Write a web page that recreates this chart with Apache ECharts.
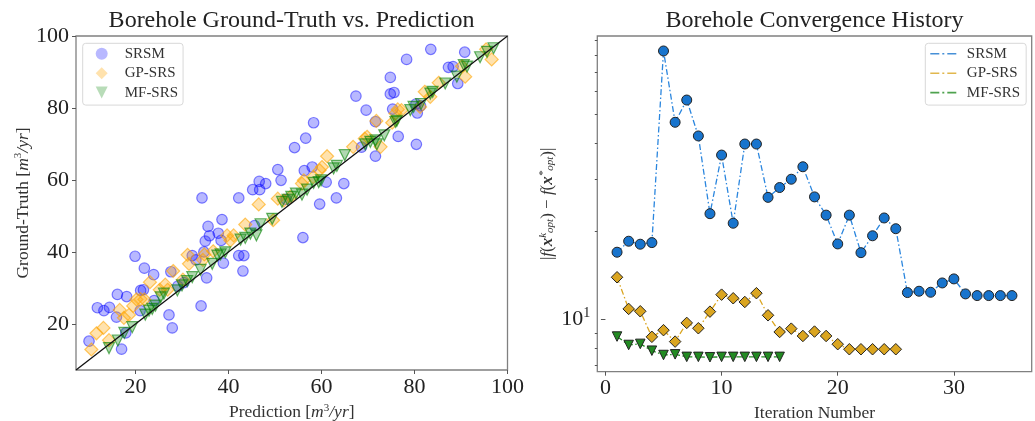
<!DOCTYPE html>
<html>
<head>
<meta charset="utf-8">
<script src="https://cdn.jsdelivr.net/npm/echarts@6/dist/echarts.min.js"></script>
<style>
  html, body { margin: 0; padding: 0; background: #fff; }
  #chart { width: 1035px; height: 421px; }
</style>
</head>
<body>
<div id="chart"></div>
<script>
// ---- Parity plot: [prediction, ground truth] in m^3/yr ----
const srsmPoints = [
  [10.0,15.2],[17.0,13.0],[17.9,17.5],[11.8,24.5],[13.2,23.7],[14.4,24.6],[15.9,21.9],[16.1,28.2],
  [18.1,27.6],[19.9,38.8],[21.0,23.7],[21.1,29.3],[21.7,29.5],[21.9,35.5],[23.9,33.7],[24.0,26.5],
  [27.2,22.5],[27.9,18.9],[27.6,34.5],[29.1,30.5],[30.4,31.5],[32.2,39.0],[33.0,37.8],[34.1,25.0],
  [34.3,55.0],[34.7,40.0],[35.0,43.0],[35.3,32.8],[35.6,47.1],[35.9,44.5],[37.8,45.2],[38.4,43.2],
  [38.6,49.0],[38.9,36.9],[42.2,55.0],[42.2,39.0],[43.3,39.0],[43.1,34.7],[45.2,57.3],[46.6,59.6],
  [46.7,57.3],[48.0,59.0],[45.6,47.3],[50.6,62.9],[51.3,59.9],[52.4,54.6],[54.2,69.0],[56.3,62.6],
  [56.6,71.6],[56.0,44.0],[58.3,75.9],[58.0,63.6],[59.6,53.3],[61.0,59.4],[63.2,55.0],[64.8,59.0],
  [67.4,83.3],[68.6,69.1],[69.6,79.4],[71.6,66.6],[71.6,76.2],[74.8,88.5],[74.8,83.9],[75.6,84.3],
  [75.3,79.7],[76.5,72.1],[78.3,93.5],[80.3,81.1],[80.6,78.6],[80.4,69.9],[81.3,80.6],[83.5,96.3],
  [87.3,91.3],[88.3,91.5],[89.3,86.8],[90.8,95.5]
];
const gpPoints = [
  [10.5,12.9],[11.6,17.4],[13.1,18.9],[14.3,15.5],[16.6,23.9],[17.5,21.7],[18.6,22.5],[19.5,25.0],
  [20.2,26.8],[21.1,26.9],[21.9,26.8],[23.1,31.6],[25.2,29.5],[26.4,30.9],[26.9,29.5],[28.1,34.7],
  [30.2,32.3],[31.2,39.2],[31.5,36.7],[34.5,37.8],[34.8,39.3],[36.7,40.2],[39.7,44.6],[41.1,44.6],
  [40.4,43.2],[43.6,47.6],[46.5,53.2],[49.6,48.8],[50.6,54.8],[51.9,54.3],[53.3,55.3],[55.8,59.0],
  [56.2,59.9],[58.2,60.8],[59.6,62.7],[60.1,63.6],[61.2,66.6],[66.8,69.2],[69.8,72.0],[69.3,71.5],
  [72.7,69.2],[75.2,75.9],[76.4,79.6],[77.2,79.4],[75.9,78.5],[71.8,76.4],[81.2,80.3],[83.4,83.1],
  [82.2,84.5],[85.2,87.0],[90.2,91.6],[90.9,88.7],[95.4,96.3],[96.6,93.5]
];
const mfPoints = [
  [14.3,13.3],[16.2,15.4],[17.6,17.5],[19.3,19.1],[22.1,22.6],[22.9,23.7],[23.6,24.2],[24.3,25.1],
  [25.4,27.4],[26.1,28.4],[29.0,29.3],[30.0,30.7],[31.1,31.9],[32.2,33.0],[34.0,35.0],[36.5,36.7],
  [37.6,39.0],[38.3,39.3],[39.3,39.9],[42.6,43.4],[43.6,43.9],[44.7,45.1],[46.0,44.6],[46.9,47.7],
  [49.4,49.2],[51.5,53.9],[52.7,54.5],[53.5,55.3],[54.5,56.2],[55.8,55.9],[56.9,57.3],[58.3,59.2],
  [59.4,59.4],[59.9,59.9],[62.6,63.2],[63.3,63.9],[65.0,66.9],[69.4,69.9],[70.5,70.6],[71.6,71.0],
  [71.9,69.9],[73.5,72.4],[75.9,76.1],[76.2,76.4],[79.1,79.4],[79.8,80.3],[81.4,81.1],[83.4,84.0],
  [83.9,84.5],[86.6,86.8],[89.1,88.7],[90.6,91.9],[91.3,91.5],[94.1,94.1],[95.6,95.6],[97.0,96.6]
];
const parityRange = [7.2, 100];
const parityTicks = [20, 40, 60, 80, 100];

// ---- Convergence history: |f(x^k_opt) - f(x*_opt)| per iteration ----
const srsmHistory = [16.96,18.49,18.06,18.29,82.5,47.1,56.1,42.3,22.96,36.4,21.3,39.7,39.7,26.1,28.2,
  30.1,33.2,26.2,22.7,18.1,22.7,16.9,19.3,22.2,20.4,12.35,12.48,12.38,13.32,13.75,12.22,12.06,12.06,12.06,12.06];
const gpHistory = [13.93,10.86,10.66,8.72,9.19,8.40,9.73,9.33,10.63,12.15,11.81,11.47,12.29,10.33,9.06,
  9.30,8.78,9.09,8.78,8.23,7.91,7.91,7.91,7.91,7.91];
const mfHistory = [8.74,8.18,8.25,7.82,7.56,7.60,7.45,7.45,7.43,7.45,7.45,7.45,7.45,7.45,7.45];
const iterTicks = [0, 10, 20, 30];
const logMajorTicks = [10];
const logMinorTicks = [7, 8, 9, 20, 30, 40, 50, 60, 70, 80, 90];

const SERIF = '"Liberation Serif", "DejaVu Serif", serif';
const DIAMOND = 'path://M1,0L2,1L1,2L0,1Z';
const TRI_DOWN = 'path://M0,0L2,0L1,2Z';
const DASH_DOT = 'path://M0,0H9V1.6H0Z M12,0H14V1.6H12Z M17,0H26V1.6H17Z';

const withIter = vals => vals.map((v, i) => [i + 1, v]);

const frame = { show: true, borderColor: '#808080', borderWidth: 1.3, backgroundColor: 'transparent',
  outerBoundsMode: 'none', containLabel: false };
const tickStyle = { lineStyle: { color: '#555', width: 1 } };
const nameRich = {
  i: { fontStyle: 'italic', fontSize: 17.5, fontFamily: SERIF },
  s: { fontSize: 11, padding: [0, 0, 9, 0], fontFamily: SERIF }
};

const chart = echarts.init(document.getElementById('chart'), null, { renderer: 'canvas' });
chart.setOption({
  animation: false,
  textStyle: { fontFamily: SERIF },
  title: [
    { text: 'Borehole Ground-Truth vs. Prediction', left: 291.5, top: 9, padding: 0, textAlign: 'center',
      textStyle: { fontFamily: SERIF, fontSize: 24, fontWeight: 'normal', color: '#222' } },
    { text: 'Borehole Convergence History', left: 814.5, top: 9, padding: 0, textAlign: 'center',
      textStyle: { fontFamily: SERIF, fontSize: 24, fontWeight: 'normal', color: '#222' } }
  ],
  legend: [
    {
      left: 82.7, top: 43.3, orient: 'vertical', padding: [3, 5, 5, 13],
      itemWidth: 36, itemHeight: 12, itemGap: 4.4,
      backgroundColor: 'rgba(255,255,255,0.8)', borderColor: '#d8d8d8', borderWidth: 1, borderRadius: 3,
      textStyle: { fontFamily: SERIF, fontSize: 15, color: '#333', lineHeight: 15 },
      data: [
        { name: 'SRSM', icon: 'circle', itemStyle: { color: 'rgba(0,0,255,0.35)', borderWidth: 0 } },
        { name: 'GP-SRS', icon: DIAMOND, itemStyle: { color: 'rgba(255,165,0,0.4)', borderWidth: 0 } },
        { name: 'MF-SRS', icon: TRI_DOWN, itemStyle: { color: 'rgba(0,128,0,0.35)', borderWidth: 0 } }
      ]
    },
    {
      left: 925.3, top: 43.3, orient: 'vertical', padding: [3, 6, 5, 5],
      itemWidth: 37, itemHeight: 1.6, itemGap: 4.4,
      backgroundColor: 'rgba(255,255,255,0.8)', borderColor: '#d8d8d8', borderWidth: 1, borderRadius: 3,
      textStyle: { fontFamily: SERIF, fontSize: 15, color: '#333', lineHeight: 15 },
      data: [
        { name: 'SRSM', icon: DASH_DOT, itemStyle: { color: '#1874CD', borderWidth: 0 } },
        { name: 'GP-SRS', icon: DASH_DOT, itemStyle: { color: '#DAA520', borderWidth: 0 } },
        { name: 'MF-SRS', icon: DASH_DOT, itemStyle: { color: '#228B22', borderWidth: 0 } }
      ]
    }
  ],
  grid: [
    Object.assign({ left: 76, top: 36, width: 431.5, height: 334 }, frame),
    Object.assign({ left: 597.3, top: 36, width: 434.4, height: 335.7 }, frame)
  ],
  xAxis: [
    {
      gridIndex: 0, type: 'value', min: parityRange[0], max: parityRange[1],
      axisLine: { show: false }, splitLine: { show: false },
      axisTick: Object.assign({ show: true, length: 4, customValues: parityTicks }, tickStyle),
      axisLabel: { customValues: parityTicks, fontSize: 22, color: '#222', margin: 6, fontFamily: SERIF },
      name: 'Prediction [{i|m}{s|3}{i|/yr}]', nameLocation: 'middle', nameGap: 30,
      nameTextStyle: { fontSize: 17.5, color: '#333', fontFamily: SERIF, rich: nameRich }
    },
    {
      gridIndex: 1, type: 'value', min: -0.7, max: 36.7,
      axisLine: { show: false }, splitLine: { show: false },
      axisTick: Object.assign({ show: true, length: 4, customValues: iterTicks }, tickStyle),
      axisLabel: { customValues: iterTicks, fontSize: 22, color: '#222', margin: 6, fontFamily: SERIF },
      name: 'Iteration Number', nameLocation: 'middle', nameGap: 30,
      nameTextStyle: { fontSize: 17.5, color: '#333', fontFamily: SERIF }
    }
  ],
  yAxis: [
    {
      gridIndex: 0, type: 'value', min: parityRange[0], max: parityRange[1],
      axisLine: { show: false }, splitLine: { show: false },
      axisTick: Object.assign({ show: true, length: 4, customValues: parityTicks }, tickStyle),
      axisLabel: { customValues: parityTicks, fontSize: 22, color: '#222', margin: 7, fontFamily: SERIF },
      name: 'Ground-Truth [{i|m}{s|3}{i|/yr}]', nameLocation: 'middle', nameGap: 41, nameRotate: 90,
      nameTextStyle: { fontSize: 17.5, color: '#333', fontFamily: SERIF, rich: nameRich }
    },
    {
      gridIndex: 1, type: 'log', logBase: 10, min: 6.63, max: 92.8,
      axisLine: { show: false }, splitLine: { show: false }, minorTick: { show: false },
      axisTick: Object.assign({ show: true, length: 4.5, customValues: logMajorTicks }, tickStyle),
      axisLabel: {
        customValues: logMajorTicks, fontSize: 22, color: '#222', margin: 7, fontFamily: SERIF,
        formatter: () => '10{s|1}',
        rich: { s: { fontSize: 14, padding: [0, 0, 12, 0], fontFamily: SERIF } }
      },
      name: '|{i|f}({b|x}{s|k}{u|opt}) \u2212 {i|f}({b|x}{s|*}{u|opt})|',
      nameLocation: 'middle', nameGap: 40, nameRotate: 90,
      nameTextStyle: { fontSize: 17, color: '#333', fontFamily: SERIF,
        rich: {
          i: { fontStyle: 'italic', fontSize: 17, fontFamily: SERIF },
          b: { fontStyle: 'italic', fontWeight: 'bold', fontSize: 17, fontFamily: SERIF },
          s: { fontStyle: 'italic', fontSize: 11, padding: [0, 0, 9, 0], fontFamily: SERIF },
          u: { fontStyle: 'italic', fontSize: 11, padding: [5, 0, 0, 0], fontFamily: SERIF }
        } }
    },
    {
      // minor ticks of the log axis
      gridIndex: 1, type: 'log', logBase: 10, min: 6.63, max: 92.8, position: 'left', offset: 0,
      axisLine: { show: false }, splitLine: { show: false }, axisLabel: { show: false },
      axisTick: Object.assign({ show: true, length: 2.5, customValues: logMinorTicks }, tickStyle)
    }
  ],
  series: [
    { name: 'SRSM', type: 'scatter', xAxisIndex: 0, yAxisIndex: 0, data: srsmPoints,
      symbol: 'circle', symbolSize: 10.5,
      itemStyle: { color: 'rgba(0,0,255,0.35)', borderColor: 'rgba(0,0,255,0.6)', borderWidth: 1.2 } },
    { name: 'GP-SRS', type: 'scatter', xAxisIndex: 0, yAxisIndex: 0, data: gpPoints,
      symbol: DIAMOND, symbolSize: 13,
      itemStyle: { color: 'rgba(255,165,0,0.4)', borderColor: 'rgba(255,165,0,0.75)', borderWidth: 1.2 } },
    { name: 'MF-SRS', type: 'scatter', xAxisIndex: 0, yAxisIndex: 0, data: mfPoints,
      symbol: TRI_DOWN, symbolSize: 11,
      itemStyle: { color: 'rgba(0,128,0,0.38)', borderColor: 'rgba(0,128,0,0.75)', borderWidth: 1.2 } },
    { type: 'line', xAxisIndex: 0, yAxisIndex: 0, data: [[parityRange[0], parityRange[0]], [parityRange[1], parityRange[1]]],
      symbol: 'none', silent: true, lineStyle: { color: '#111', width: 1.3 } },

    { name: 'SRSM', type: 'line', xAxisIndex: 1, yAxisIndex: 1, data: withIter(srsmHistory),
      symbol: 'circle', symbolSize: 10,
      lineStyle: { color: '#2B86DE', width: 1.3, type: [6, 2.5, 1.5, 2.5] },
      itemStyle: { color: '#1874CD', borderColor: '#222', borderWidth: 1 } },
    { name: 'GP-SRS', type: 'line', xAxisIndex: 1, yAxisIndex: 1, data: withIter(gpHistory),
      symbol: DIAMOND, symbolSize: 11.5,
      lineStyle: { color: '#DAA520', width: 1.3, type: [6, 2.5, 1.5, 2.5] },
      itemStyle: { color: '#DAA520', borderColor: '#222', borderWidth: 1 } },
    { name: 'MF-SRS', type: 'line', xAxisIndex: 1, yAxisIndex: 1, data: withIter(mfHistory),
      symbol: TRI_DOWN, symbolSize: 9.5,
      lineStyle: { color: '#228B22', width: 1.3, type: [6, 2.5, 1.5, 2.5] },
      itemStyle: { color: '#228B22', borderColor: '#222', borderWidth: 1 } }
  ]
});
</script>
</body>
</html>
